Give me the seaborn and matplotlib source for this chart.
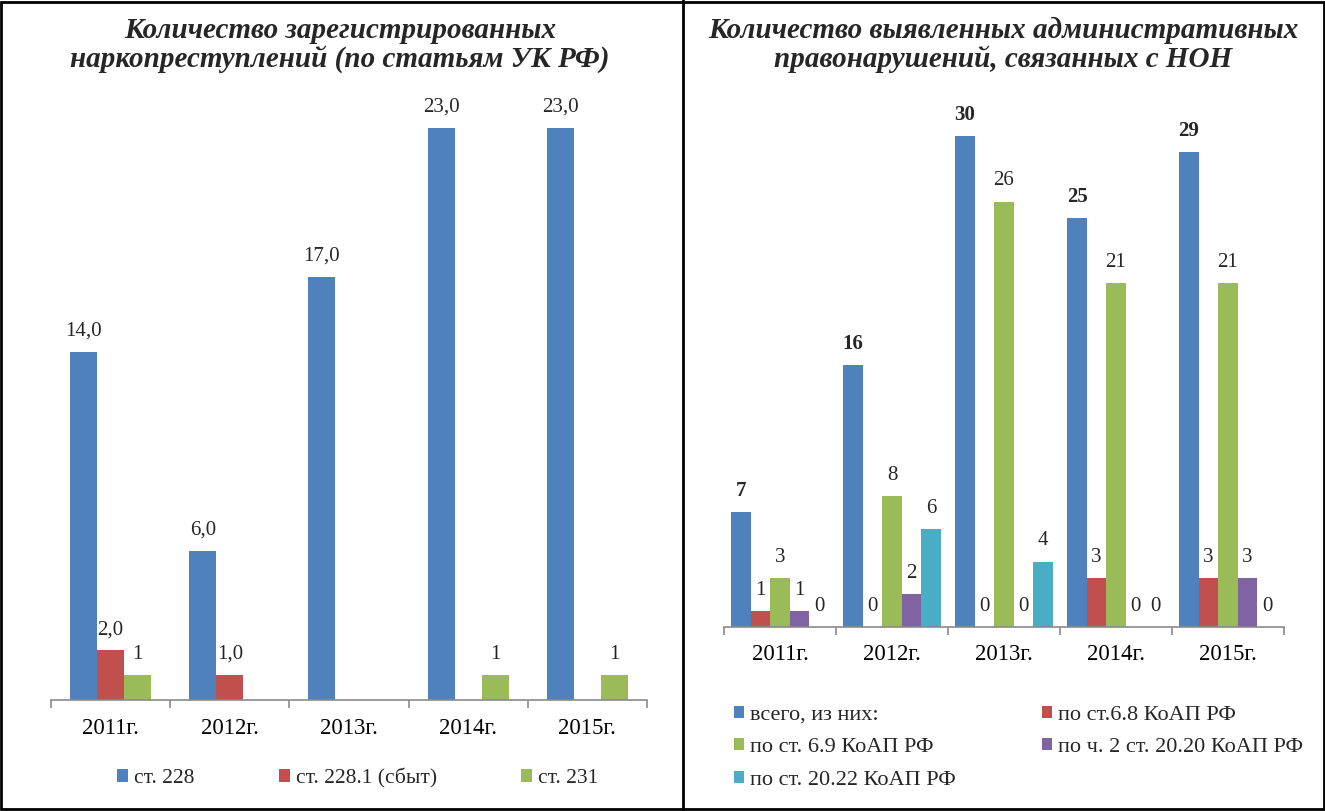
import matplotlib
matplotlib.use("Agg")
import matplotlib.pyplot as plt
from matplotlib.patches import Patch, Rectangle
from matplotlib.lines import Line2D
import numpy as np
import pandas as pd
import seaborn as sns

# ---- data ----
years = ["2011г.", "2012г.", "2013г.", "2014г.", "2015г."]

crime_series = ["ст. 228", "ст. 228.1 (сбыт)", "ст. 231"]
st_228 = [14, 6, 17, 23, 23]
st_228_1 = [2, 1, np.nan, np.nan, np.nan]
st_231 = [1, np.nan, np.nan, 1, 1]

adm_series = ["всего, из них:", "по ст.6.8 КоАП РФ", "по ст. 6.9 КоАП РФ",
              "по ч. 2 ст. 20.20 КоАП РФ", "по ст. 20.22 КоАП РФ"]
total = [7, 16, 30, 25, 29]
koap_6_8 = [1, 0, 0, 3, 3]
koap_6_9 = [3, 8, 26, 21, 21]
koap_20_20 = [1, 2, 0, 0, 3]
koap_20_22 = [0, 6, 4, 0, 0]

left_title = "Количество зарегистрированных\nнаркопреступлений (по статьям УК РФ)"
right_title = "Количество выявленных административных\nправонарушений, связанных с НОН"

# Office-style palette
colors_left = ["#4F81BD", "#C0504D", "#9BBB59"]
colors_right = ["#4F81BD", "#C0504D", "#9BBB59", "#8064A2", "#4BACC6"]


def long_frame(series_names, columns):
    rows = []
    for name, vals in zip(series_names, columns):
        for y, v in zip(years, vals):
            if not np.isnan(v):
                rows.append({"year": y, "series": name, "value": v})
    return pd.DataFrame(rows)


df_left = long_frame(crime_series, [st_228, st_228_1, st_231])
df_right = long_frame(adm_series, [total, koap_6_8, koap_6_9, koap_20_20, koap_20_22])

sns.set_theme(style="white")
plt.rcParams["font.family"] = ["Liberation Serif", "DejaVu Serif"]

fig = plt.figure(figsize=(13.25, 8.11), dpi=100)
fig.patch.set_facecolor("white")

ax_l = fig.add_axes([51 / 1325, 1 - 700 / 811, 596 / 1325, 622 / 811])
ax_r = fig.add_axes([724 / 1325, 1 - 627 / 811, 560 / 1325, 540 / 811])

sns.barplot(data=df_left, x="year", y="value", hue="series", order=years,
            hue_order=crime_series, palette=colors_left, saturation=1,
            width=0.68, gap=0, legend=False, errorbar=None, linewidth=0, ax=ax_l)
sns.barplot(data=df_right, x="year", y="value", hue="series", order=years,
            hue_order=adm_series, palette=colors_right, saturation=1,
            width=0.87, gap=0, legend=False, errorbar=None, linewidth=0, ax=ax_r)

ax_l.set_ylim(0, 25)
ax_r.set_ylim(0, 33)

for ax, pad in ((ax_l, 13), (ax_r, 12)):
    ax.set_xlabel("")
    ax.set_ylabel("")
    ax.set_yticks([])
    for s in ("top", "left", "right"):
        ax.spines[s].set_visible(False)
    ax.spines["bottom"].set_color("#8a8a8a")
    ax.spines["bottom"].set_linewidth(1.2)
    ax.set_xlim(-0.5, len(years) - 0.5)
    ax.set_xticks(np.arange(len(years)))
    ax.set_xticks(np.arange(len(years) + 1) - 0.5, minor=True)
    ax.tick_params(axis="x", which="major", length=0, pad=pad, labelsize=16.5,
                   labelcolor="black")
    ax.tick_params(axis="x", which="minor", length=6, width=1.2,
                   color="#8a8a8a", bottom=True)
    ax.set_facecolor("white")

# value labels, left panel
for i, cont in enumerate(ax_l.containers):
    vals = cont.datavalues
    if i < 2:
        labels = [f"{v:.1f}".replace(".", ",") for v in vals]
    else:
        labels = [f"{v:.0f}" for v in vals]
    ax_l.bar_label(cont, labels=labels, padding=8, fontsize=15)

# value labels, right panel
for i, cont in enumerate(ax_r.containers):
    vals = cont.datavalues
    labels = [f"{v:.0f}" for v in vals]
    ax_r.bar_label(cont, labels=labels, padding=8, fontsize=15,
                   fontweight="bold" if i == 0 else "normal")

# titles
title_kw = dict(ha="center", va="center", fontsize=21, fontweight="bold",
                fontstyle="italic", linespacing=1.1)
fig.text(340 / 1325, 1 - 45 / 811, left_title, **title_kw)
fig.text(1003 / 1325, 1 - 45 / 811, right_title, **title_kw)

# legends
h_left = [Patch(facecolor=c, edgecolor="none") for c in colors_left]
fig.legend(h_left, crime_series, loc="center", ncol=3,
           bbox_to_anchor=(358 / 1325, 1 - 778 / 811), frameon=False,
           fontsize=15.5, handlelength=0.5, handleheight=0.5,
           handletextpad=0.3, columnspacing=3.9)

h_right = [Patch(facecolor=c, edgecolor="none") for c in colors_right]
order = [0, 2, 4, 1, 3]
fig.legend([h_right[k] for k in order], [adm_series[k] for k in order],
           loc="upper left", ncol=2, bbox_to_anchor=(714 / 1325, 1 - 686 / 811),
           frameon=False, fontsize=16, handlelength=0.45, handleheight=0.45,
           handletextpad=0.25, columnspacing=3.9, labelspacing=0.6)

# outer frame and divider
fig.add_artist(Rectangle((0.001, 0.002), 0.998, 0.996, transform=fig.transFigure,
                         fill=False, edgecolor="black", linewidth=2))
fig.add_artist(Line2D([683 / 1325, 683 / 1325], [0, 1], transform=fig.transFigure,
                      color="black", linewidth=2))

fig.savefig("out.png", dpi=100, facecolor="white")
